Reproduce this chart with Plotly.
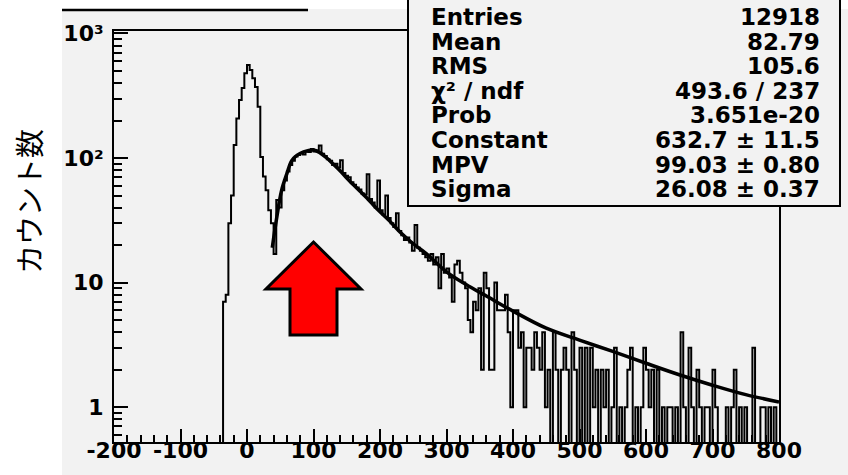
import plotly.graph_objects as go

# ---------------- data ----------------
bin_lo = -200
bin_width = 4
counts = (
    [0] * 41
    # pedestal -36 .. 32
    + [7, 8, 30, 50, 127, 208, 292, 365, 480, 558, 510, 437, 372, 258, 102, 71, 55, 38]
    # 36, 40, 44
    + [30, 17, 46]
    # 48 .. 96
    + [40, 55, 66, 78, 88, 95, 103, 106, 110, 107, 114, 112, 118]
    # 100 .. 196
    + [113, 115, 126, 108, 104, 98, 95, 88, 90, 84, 96, 76, 72, 70, 64, 61, 58, 56, 52, 51, 74, 47, 44, 40, 66]
    # 200 .. 296
    + [38, 35, 50, 33, 30, 28, 36, 26, 24, 22, 23, 21, 18, 29, 19, 18, 17, 16, 15, 17, 14, 16, 9, 17, 12]
    # 300 .. 316
    + [13, 11, 7, 14, 15]
    # 320 .. 456
    + [12, 10, 9, 5, 4, 7, 6, 9, 2, 12, 9, 2, 2, 10, 6, 6, 6, 8, 4, 1, 6, 6, 3, 4, 1, 3, 3, 2, 4, 3, 2, 4, 1, 2, 0]
    # 460 .. 556
    + [4, 2, 0, 2, 3, 2, 0, 4, 2, 0, 3, 0, 3, 0, 3, 1, 2, 0, 2, 1, 2, 0, 1, 3, 0]
    # 560 .. 796
    + [1, 0, 1, 2, 3, 0, 1, 0, 1, 3, 2, 1, 2, 0, 2, 0, 1, 0, 1, 1,
       0, 1, 0, 4, 1, 0, 3, 1, 0, 2, 1, 0, 1, 1, 0, 2, 1, 0, 0, 0,
       1, 0, 1, 2, 0, 1, 0, 1, 0, 0, 3, 0, 0, 1, 1, 0, 1, 0, 1, 0]
)
assert len(counts) == 250

# Landau fit curve
fit_x = [38, 45, 52, 60, 67, 75, 85, 100, 110, 120, 130, 140, 150, 160, 170, 180, 190, 200,
         215, 230, 250, 270, 300, 330, 360, 400, 450, 500, 550, 600, 650, 700, 750, 800]
fit_y = [19, 34, 55, 75, 95, 105, 112, 116, 110, 100, 89, 79, 69, 61, 54, 48, 42, 37,
         31, 25.5, 20.5, 17, 12.2, 9.6, 7.8, 5.9, 4.3, 3.45, 2.8, 2.25, 1.82, 1.5, 1.26, 1.1]

x_tick_vals = [-200, -100, 0, 100, 200, 300, 400, 500, 600, 700, 800]
x_tick_labels = ["-200", "-100", "0", "100", "200", "300", "400", "500", "600", "700", "800"]
y_tick_vals = [1, 10, 100, 1000]
y_tick_labels = ["1", "10", "10²", "10³"]

stat_names = ["Entries", "Mean", "RMS", "χ² / ndf", "Prob", "Constant", "MPV", "Sigma"]
stat_values = ["12918", "82.79", "105.6", "493.6 / 237", "3.651e-20",
               "632.7 ± 11.5", "99.03 ± 0.80", "26.08 ± 0.37"]
y_title = "カウント数"

# ---------------- geometry (pixels) ----------------
W, H = 848, 475
PL, PR, PT, PB = 114, 779, 31, 442
BG = "#f2f2f2"


def fx(px):
    return (px - PL) / (PR - PL)


def fy(py):
    return (PB - py) / (PB - PT)


edges = [bin_lo + bin_width * i for i in range(len(counts) + 1)]
hist_y = [c if c > 0 else 0.05 for c in counts] + [0.05]

fig = go.Figure()
fig.add_trace(go.Scatter(
    x=edges, y=hist_y, mode="lines", line=dict(shape="hv", color="black", width=2),
    hoverinfo="skip", showlegend=False))
fig.add_trace(go.Scatter(
    x=fit_x, y=fit_y, mode="lines", line=dict(shape="spline", color="black", width=3.5),
    hoverinfo="skip", showlegend=False))

tickfont = dict(family="DejaVu Sans", size=22, color="black", weight="bold")

fig.update_layout(
    width=W, height=H,
    margin=dict(l=PL, r=W - PR, t=PT, b=H - PB, pad=0, autoexpand=False),
    paper_bgcolor="white", plot_bgcolor="rgba(0,0,0,0)",
    showlegend=False,
    xaxis=dict(range=[-200, 800], showgrid=False, zeroline=False, automargin=False,
               showline=True, linecolor="black", linewidth=2, mirror=True,
               ticks="inside", ticklen=13, tickwidth=1.5, tickcolor="black",
               tickvals=x_tick_vals, ticktext=x_tick_labels, tickfont=tickfont,
               ticklabelstandoff=-12,
               minor=dict(ticks="inside", ticklen=7, tickwidth=1.5, tickcolor="black", dtick=20, tick0=-200)),
    yaxis=dict(type="log", range=[-0.28, 3.02], showgrid=False, zeroline=False, automargin=False,
               showline=True, linecolor="black", linewidth=2, mirror=True,
               ticks="inside", ticklen=14, tickwidth=1.5, tickcolor="black",
               tickvals=y_tick_vals, ticktext=y_tick_labels, tickfont=tickfont,
               ticklabelstandoff=4,
               minor=dict(ticks="inside", ticklen=8, tickwidth=1.5, tickcolor="black",
                          tickvals=[0.6, 0.7, 0.8, 0.9] + [m * d for d in (1, 10, 100) for m in range(2, 10)])),
)

shapes = []
# grey pad
shapes.append(dict(type="rect", xref="paper", yref="paper", x0=fx(62), x1=fx(W + 5), y0=fy(H + 5), y1=fy(9),
                   fillcolor=BG, line=dict(width=0), layer="below"))
# title box underline (title itself is cut off above the picture)
shapes.append(dict(type="line", xref="paper", yref="paper", x0=fx(62), x1=fx(308), y0=fy(10), y1=fy(10),
                   line=dict(color="black", width=2.5)))
# stats box
shapes.append(dict(type="rect", xref="paper", yref="paper", x0=fx(408), x1=fx(840), y0=fy(206), y1=fy(-5),
                   fillcolor=BG, line=dict(color="black", width=2), layer="above"))
# red arrow
arrow = [(313.5, 242), (361, 289), (337, 289), (337, 335), (290, 335), (290, 289), (266, 289)]
path = "M " + " L ".join(f"{fx(a):.5f},{fy(b):.5f}" for a, b in arrow) + " Z"
shapes.append(dict(type="path", xref="paper", yref="paper", path=path,
                   fillcolor="#ff0000", line=dict(color="black", width=3), layer="above"))
fig.update_layout(shapes=shapes)

ann = []
statfont = dict(family="DejaVu Sans", size=23, color="black", weight="bold")
for i, (n, v) in enumerate(zip(stat_names, stat_values)):
    yy = 17 + 24.6 * i
    ann.append(dict(xref="paper", yref="paper", x=fx(429), y=fy(yy), text=n, showarrow=False,
                    xanchor="left", yanchor="middle", font=statfont))
    ann.append(dict(xref="paper", yref="paper", x=fx(822), y=fy(yy), text=v, showarrow=False,
                    xanchor="right", yanchor="middle", font=statfont))
ann.append(dict(xref="paper", yref="paper", x=fx(28), y=fy(202), text=y_title, showarrow=False,
                textangle=-90, xanchor="center", yanchor="middle",
                font=dict(family="Noto Sans CJK JP", size=29, color="black")))
fig.update_layout(annotations=ann)

fig.write_html("out.html")
